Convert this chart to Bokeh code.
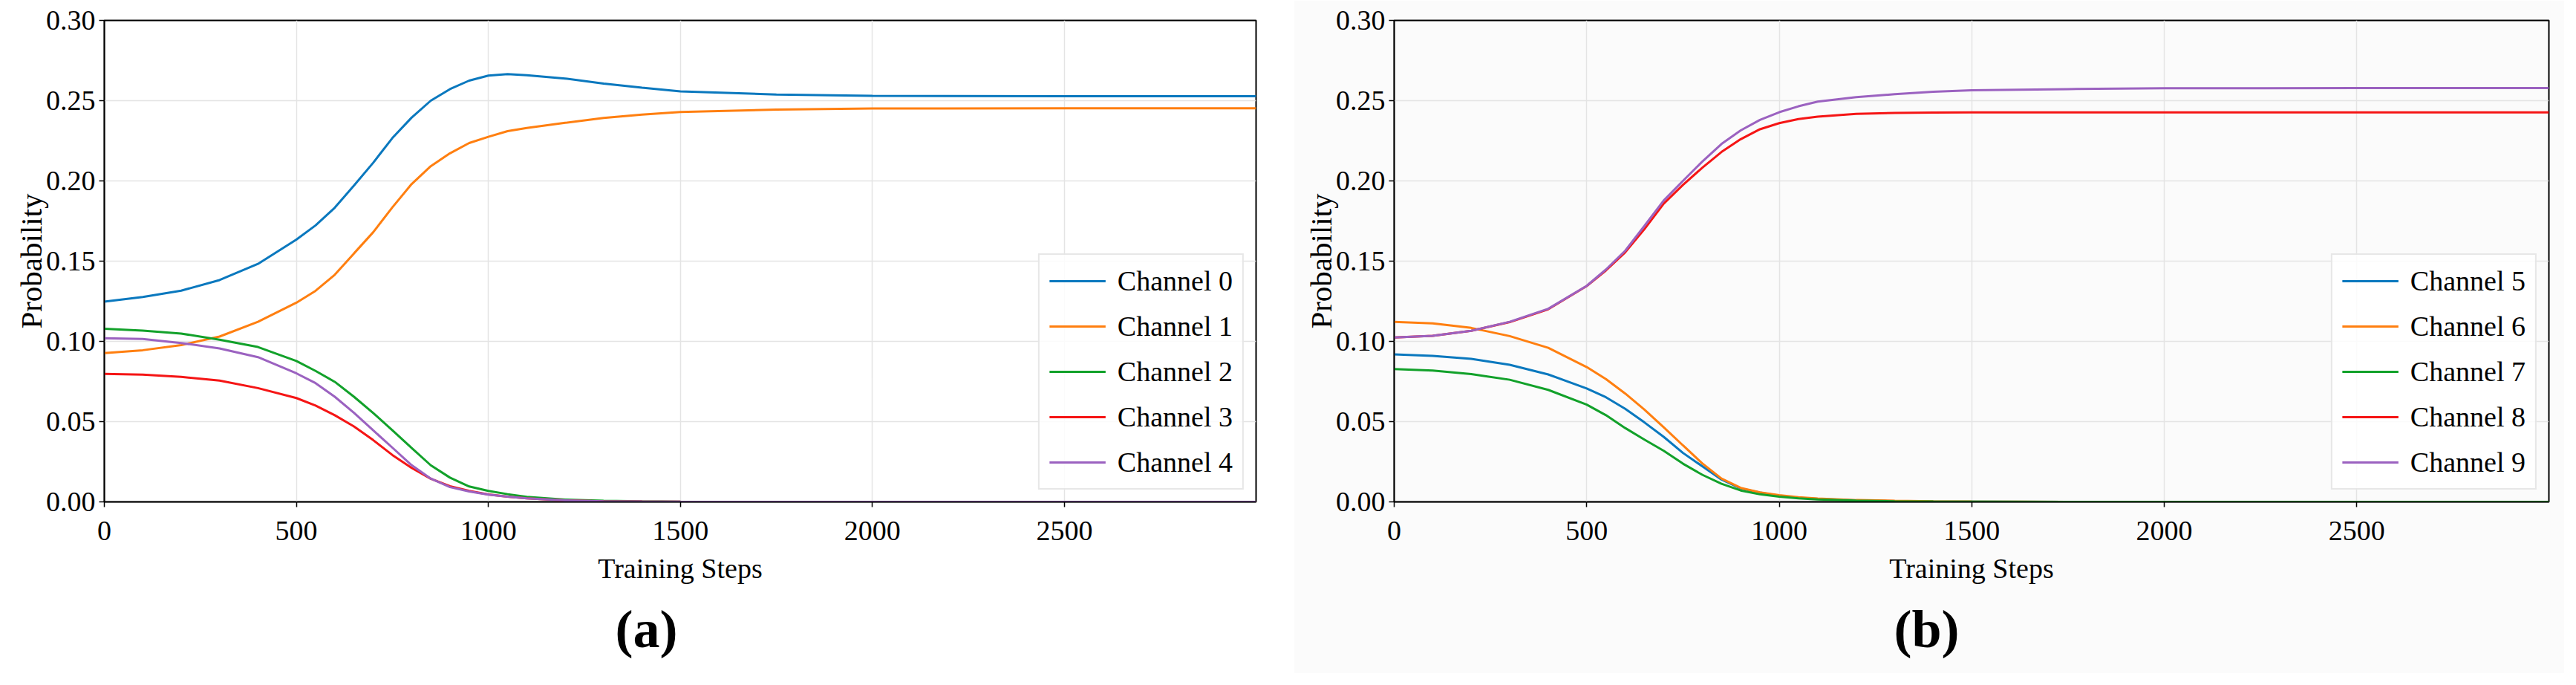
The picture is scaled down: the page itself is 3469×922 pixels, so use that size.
from bokeh.plotting import figure
from bokeh.models import Range1d, Legend, LegendItem, Title, FixedTicker, NumeralTickFormatter
from bokeh.layouts import row
from bokeh.embed import file_html
from bokeh.resources import INLINE

# ---------------- data ----------------
STEPS = [0, 100, 200, 300, 400, 500, 550, 600, 650, 700, 750, 800, 850, 900,
         950, 1000, 1050, 1100, 1200, 1300, 1400, 1500, 1750, 2000, 2500, 2999]

# panel (a)
CH0 = [0.1248, 0.1277, 0.1316, 0.1382, 0.1483, 0.1634, 0.1723, 0.1833, 0.1971, 0.2113, 0.2267, 0.2394, 0.2500,
       0.2572, 0.2625, 0.2656, 0.2665, 0.2659, 0.2638, 0.2606, 0.2581, 0.2558, 0.2538, 0.2530, 0.2528, 0.2528]
CH1 = [0.0927, 0.0945, 0.0977, 0.1030, 0.1122, 0.1241, 0.1315, 0.1415, 0.1548, 0.1680, 0.1835, 0.1980, 0.2092,
       0.2172, 0.2236, 0.2275, 0.2310, 0.2330, 0.2362, 0.2392, 0.2413, 0.2429, 0.2444, 0.2451, 0.2452, 0.2452]
CH2 = [0.1079, 0.1067, 0.1049, 0.1010, 0.0965, 0.0878, 0.0816, 0.0748, 0.0655, 0.0554, 0.0446, 0.0336, 0.0228,
       0.0151, 0.0096, 0.0068, 0.0048, 0.0031, 0.0014, 0.0007, 0.0003, 0.0001, 0.0, 0.0, 0.0, 0.0]
CH3 = [0.0798, 0.0793, 0.0779, 0.0756, 0.0709, 0.0647, 0.0600, 0.0540, 0.0470, 0.0385, 0.0292, 0.0212, 0.0144,
       0.0098, 0.0068, 0.0046, 0.0032, 0.0022, 0.0009, 0.0004, 0.0002, 0.0001, 0.0, 0.0, 0.0, 0.0]
CH4 = [0.1020, 0.1015, 0.0990, 0.0956, 0.0902, 0.0801, 0.0740, 0.0655, 0.0555, 0.0446, 0.0338, 0.0229, 0.0145,
       0.0092, 0.0065, 0.0045, 0.0032, 0.0022, 0.0009, 0.0004, 0.0002, 0.0001, 0.0, 0.0, 0.0, 0.0]

# panel (b)
CH5 = [0.0919, 0.0910, 0.0891, 0.0854, 0.0794, 0.0707, 0.0652, 0.0580, 0.0495, 0.0405, 0.0305, 0.0222, 0.0139,
       0.0084, 0.0058, 0.0038, 0.0026, 0.0018, 0.0009, 0.0005, 0.0002, 0.0001, 0.0, 0.0, 0.0, 0.0]
CH6 = [0.1121, 0.1112, 0.1084, 0.1033, 0.0960, 0.0840, 0.0765, 0.0675, 0.0575, 0.0465, 0.0352, 0.0240, 0.0145,
       0.0087, 0.0059, 0.0042, 0.0029, 0.0021, 0.0011, 0.0007, 0.0004, 0.0002, 0.0, 0.0, 0.0, 0.0]
CH7 = [0.0827, 0.0818, 0.0796, 0.0761, 0.0698, 0.0606, 0.0540, 0.0460, 0.0388, 0.0318, 0.0238, 0.0169, 0.0113,
       0.0071, 0.0047, 0.0032, 0.0022, 0.0015, 0.0008, 0.0004, 0.0002, 0.0001, 0.0, 0.0, 0.0, 0.0]
CH8 = [0.1024, 0.1035, 0.1066, 0.1120, 0.1200, 0.1345, 0.1442, 0.1555, 0.1700, 0.1858, 0.1975, 0.2082, 0.2180,
       0.2260, 0.2322, 0.2360, 0.2385, 0.2400, 0.2418, 0.2424, 0.2426, 0.2427, 0.2427, 0.2427, 0.2427, 0.2427]
CH9 = [0.1024, 0.1035, 0.1066, 0.1122, 0.1203, 0.1346, 0.1448, 0.1565, 0.1720, 0.1878, 0.2000, 0.2120, 0.2230,
       0.2315, 0.2380, 0.2428, 0.2465, 0.2494, 0.2522, 0.2540, 0.2555, 0.2565, 0.2572, 0.2577, 0.2579, 0.2579]

NAMES_A = ["Channel 0", "Channel 1", "Channel 2", "Channel 3", "Channel 4"]
NAMES_B = ["Channel 5", "Channel 6", "Channel 7", "Channel 8", "Channel 9"]
SERIES_A = [CH0, CH1, CH2, CH3, CH4]
SERIES_B = [CH5, CH6, CH7, CH8, CH9]

X_TICKS = [0, 500, 1000, 1500, 2000, 2500]
Y_TICKS = [0.0, 0.05, 0.10, 0.15, 0.20, 0.25, 0.30]

COLORS = ["#0a78be", "#ff7f10", "#12a12a", "#f51515", "#9b62c0"]
FONT = "Liberation Serif"


def make_panel(width, border_left, border_right, names, series, caption, cap_offset, bg):
    p = figure(width=width, height=906,
               x_range=Range1d(0, 2999), y_range=Range1d(0, 0.30),
               output_backend="svg", toolbar_location=None,
               min_border_left=border_left, min_border_right=border_right,
               min_border_top=27, min_border_bottom=231,
               background_fill_color=bg, border_fill_color=bg)
    p.outline_line_color = "black"
    p.outline_line_width = 2

    items = []
    for name, ys, col in zip(names, series, COLORS):
        r = p.line(STEPS, ys, line_color=col, line_width=3)
        items.append(LegendItem(label=name, renderers=[r]))

    # axes
    p.xaxis.ticker = FixedTicker(ticks=X_TICKS)
    p.yaxis.ticker = FixedTicker(ticks=Y_TICKS)
    p.yaxis.formatter = NumeralTickFormatter(format="0.00")
    for ax in (p.xaxis[0], p.yaxis[0]):
        ax.major_label_text_font = FONT
        ax.major_label_text_font_size = "38px"
        ax.major_label_text_color = "black"
        ax.axis_label_text_font = FONT
        ax.axis_label_text_font_style = "normal"
        ax.axis_label_text_color = "black"
        ax.axis_line_color = "black"
        ax.axis_line_width = 1.5
        ax.major_tick_line_color = "black"
        ax.major_tick_line_width = 1.5
        ax.major_tick_in = 0
        ax.major_tick_out = 7
        ax.minor_tick_line_color = None
    p.xaxis.axis_label = "Training Steps"
    p.xaxis.axis_label_text_font_size = "38px"
    p.xaxis.major_label_standoff = 19
    p.xaxis.axis_label_standoff = 14
    p.yaxis.axis_label = "Probability"
    p.yaxis.axis_label_text_font_size = "41px"
    p.yaxis.major_label_standoff = 5
    p.yaxis.axis_label_standoff = -6

    # grid
    p.xgrid.ticker = FixedTicker(ticks=X_TICKS)
    p.ygrid.ticker = FixedTicker(ticks=Y_TICKS)
    for g in (p.xgrid[0], p.ygrid[0]):
        g.grid_line_color = "#e4e4e4"
        g.grid_line_width = 1.5

    # legend
    leg = Legend(items=items, location="bottom_right", margin=16,
                 label_text_font=FONT, label_text_font_size="38px",
                 label_text_color="black",
                 glyph_width=76, glyph_height=40, label_height=40,
                 label_standoff=16, spacing=17, padding=13,
                 border_line_color="#cfcfcf", border_line_width=2,
                 background_fill_color="white", background_fill_alpha=0.85)
    p.add_layout(leg)

    # caption below the axis
    cap = Title(text=caption, align="left", offset=cap_offset, standoff=32,
                text_font=FONT, text_font_size="72px", text_font_style="bold",
                text_color="black")
    p.add_layout(cap, "below")
    return p


p1 = make_panel(1742, 140, 51, NAMES_A, SERIES_A, "(a)", 688, "white")
p2 = make_panel(1711, 135, 21, NAMES_B, SERIES_B, "(b)", 673, "#fbfbfb")

layout = row(p1, p2)
open("out.html", "w").write(file_html(layout, INLINE))
